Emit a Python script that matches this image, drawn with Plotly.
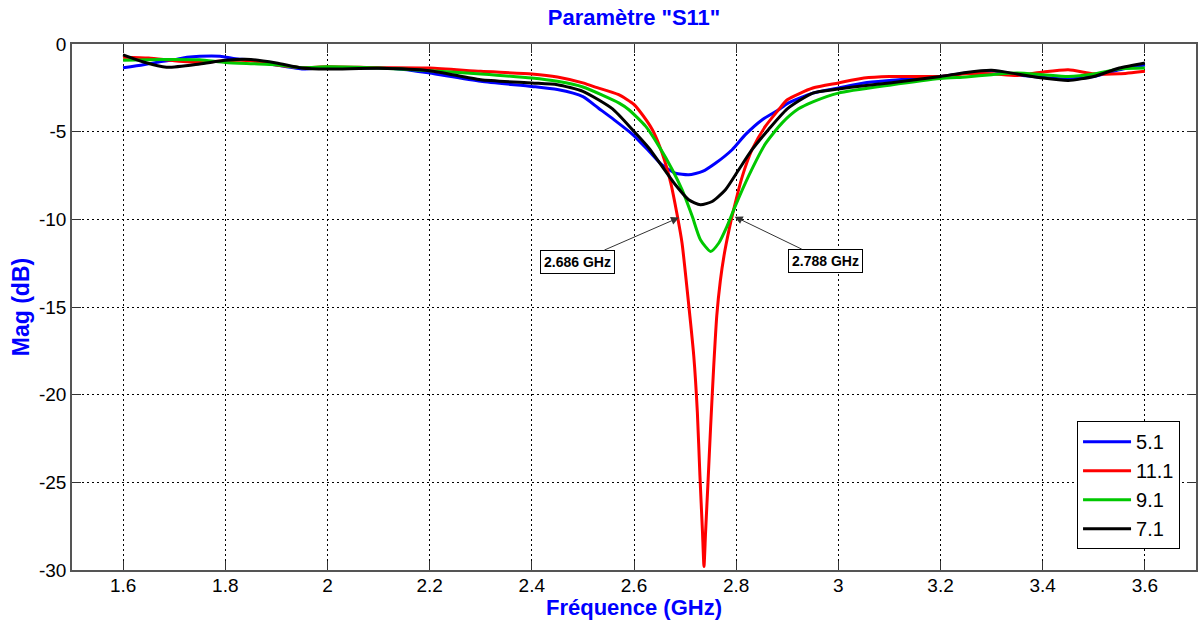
import plotly.graph_objects as go

# ---------------- data ----------------
freq_51 = [1.6, 1.64, 1.67, 1.7, 1.725, 1.75, 1.79, 1.82, 1.85, 1.9, 1.95, 2.0, 2.1, 2.15, 2.2, 2.3, 2.4,
           2.45, 2.5, 2.53, 2.56, 2.597, 2.629, 2.655, 2.681, 2.707, 2.734, 2.76, 2.792, 2.818, 2.851,
           2.883, 2.9, 2.95, 3.0, 3.05, 3.1, 3.2, 3.25, 3.3, 3.35, 3.4, 3.45, 3.5, 3.55, 3.6]
mag_51 = [-1.35, -1.18, -1.03, -0.9, -0.76, -0.7, -0.7, -0.84, -0.92, -1.2, -1.42, -1.35, -1.37, -1.45,
          -1.66, -2.13, -2.42, -2.6, -3.0, -3.65, -4.3, -5.15, -6.1, -6.9, -7.36, -7.46, -7.27, -6.79,
          -6.03, -5.17, -4.32, -3.75, -3.4, -2.8, -2.51, -2.22, -2.08, -1.85, -1.66, -1.52, -1.75, -1.9,
          -2.0, -1.85, -1.47, -1.2]

freq_111 = [1.6, 1.65, 1.7, 1.75, 1.8, 1.85, 1.9, 1.95, 2.0, 2.1, 2.2, 2.3, 2.4, 2.45, 2.5, 2.52, 2.57,
            2.6, 2.609, 2.636, 2.655, 2.672, 2.685, 2.694, 2.704, 2.717, 2.724, 2.729, 2.734, 2.737,
            2.740, 2.745, 2.75, 2.756, 2.762, 2.769, 2.776, 2.786, 2.795, 2.812, 2.831, 2.857, 2.883,
            2.9, 2.95, 3.0, 3.05, 3.1, 3.2, 3.25, 3.3, 3.35, 3.4, 3.45, 3.5, 3.55, 3.6]
mag_111 = [-0.75, -0.8, -0.95, -1.05, -0.95, -0.95, -1.2, -1.35, -1.3, -1.35, -1.37, -1.56, -1.71, -1.88,
           -2.22, -2.42, -2.89, -3.45, -3.75, -4.89, -6.22, -7.93, -9.83, -11.35, -14.0, -17.8, -21.0,
           -24.6, -27.8, -29.8, -27.9, -24.9, -21.8, -18.4, -15.5, -13.5, -12.1, -10.6, -9.45, -7.55,
           -6.03, -4.7, -3.75, -3.18, -2.51, -2.22, -1.94, -1.85, -1.85, -1.7, -1.7, -1.8, -1.6, -1.47,
           -1.7, -1.7, -1.55]

freq_91 = [1.6, 1.65, 1.7, 1.75, 1.8, 1.85, 1.9, 1.95, 2.0, 2.1, 2.2, 2.3, 2.4, 2.45, 2.5, 2.571, 2.59,
           2.623, 2.649, 2.675, 2.694, 2.714, 2.73, 2.75, 2.766, 2.782, 2.798, 2.824, 2.857, 2.89,
           2.922, 2.95, 3.0, 3.1, 3.2, 3.25, 3.3, 3.35, 3.4, 3.45, 3.5, 3.55, 3.6]
mag_91 = [-0.93, -0.9, -0.88, -0.9, -1.05, -1.12, -1.18, -1.35, -1.3, -1.37, -1.52, -1.71, -1.94, -2.13,
          -2.45, -3.37, -3.75, -4.7, -5.84, -7.17, -8.31, -9.83, -11.16, -11.83, -11.35, -10.4, -9.26,
          -7.55, -5.7, -4.5, -3.7, -3.3, -2.8, -2.35, -1.97, -1.88, -1.75, -1.66, -1.75, -1.85, -1.71,
          -1.42, -1.37]

freq_71 = [1.6, 1.64, 1.685, 1.75, 1.8, 1.85, 1.9, 1.95, 2.0, 2.1, 2.2, 2.3, 2.4, 2.45, 2.5, 2.558,
           2.597, 2.629, 2.655, 2.681, 2.707, 2.73, 2.753, 2.779, 2.805, 2.831, 2.863, 2.9, 2.95, 3.0,
           3.05, 3.1, 3.2, 3.25, 3.3, 3.35, 3.4, 3.45, 3.5, 3.55, 3.6]
mag_71 = [-0.62, -1.03, -1.33, -1.14, -0.93, -0.88, -1.08, -1.37, -1.43, -1.38, -1.52, -2.04, -2.22,
          -2.32, -2.7, -3.7, -4.89, -5.93, -6.98, -8.03, -8.88, -9.17, -8.98, -8.31, -7.17, -6.03, -4.89,
          -3.7, -2.8, -2.57, -2.38, -2.22, -1.85, -1.62, -1.5, -1.71, -1.94, -2.08, -1.85, -1.37, -1.08]

series_names = ["5.1", "11.1", "9.1", "7.1"]
series_colors = ["#0000FF", "#FF0000", "#00C800", "#000000"]

marker_freqs = [2.688, 2.797]
marker_mags = [-9.9, -9.85]
marker_labels = ["2.686 GHz", "2.788 GHz"]

x_ticks = [1.6, 1.8, 2.0, 2.2, 2.4, 2.6, 2.8, 3.0, 3.2, 3.4, 3.6]
x_tick_text = ["1.6", "1.8", "2", "2.2", "2.4", "2.6", "2.8", "3", "3.2", "3.4", "3.6"]
y_ticks = [0, -5, -10, -15, -20, -25, -30]
y_tick_text = ["0", "-5", "-10", "-15", "-20", "-25", "-30"]

# ---------------- figure ----------------
FONT = "Liberation Sans, Arial, sans-serif"
fig = go.Figure()
all_x = [freq_51, freq_111, freq_91, freq_71]
all_y = [mag_51, mag_111, mag_91, mag_71]
for xs, ys, name, col in zip(all_x, all_y, series_names, series_colors):
    fig.add_trace(go.Scatter(x=xs, y=ys, mode="lines", name=name,
                             line=dict(color=col, width=3, shape="spline", smoothing=0.6)))

offsets = [(-101, 44), (91, 44)]
for fx, my, lab, (axo, ayo) in zip(marker_freqs, marker_mags, marker_labels, offsets):
    fig.add_annotation(x=fx, y=my, text="<b>" + lab + "</b>", showarrow=True, ax=axo, ay=ayo,
                       arrowhead=2, arrowsize=1.6, arrowwidth=1, arrowcolor="#333333",
                       bgcolor="white", bordercolor="black", borderwidth=1, borderpad=3,
                       font=dict(family=FONT, size=14, color="black"))

# x-axis title placed as a paper annotation just below the tick labels
fig.add_annotation(text="<b>Fréquence (GHz)</b>", xref="paper", yref="paper", x=0.5, y=-0.098,
                   xanchor="center", yanchor="bottom", showarrow=False,
                   font=dict(family=FONT, size=22, color="#0000FF"))

axis_common = dict(showline=True, linecolor="#555555", linewidth=1.5, mirror="ticks",
                   ticks="inside", ticklen=9, tickwidth=1, tickcolor="#333333",
                   showgrid=True, gridcolor="#000000", gridwidth=1, griddash="2px,3px",
                   zeroline=False, tickfont=dict(family=FONT, size=19, color="black"))

fig.update_xaxes(range=[1.5, 3.7], tickvals=x_ticks, ticktext=x_tick_text,
                 ticklabelstandoff=-3, **axis_common)
fig.update_yaxes(range=[-30, 0], tickvals=y_ticks, ticktext=y_tick_text,
                 title=dict(text="<b>Mag (dB)</b>", font=dict(family=FONT, size=23, color="#0000FF"),
                            standoff=3),
                 **axis_common)

fig.update_layout(
    width=1198, height=621,
    margin=dict(l=72, r=0, t=44, b=51),
    paper_bgcolor="white", plot_bgcolor="white",
    title=dict(text='<b>Paramètre "S11"</b>', x=0.5, xref="paper", xanchor="center",
               y=1 - 17 / 621, yref="container", yanchor="middle",
               font=dict(family=FONT, size=22, color="#0000FF")),
    legend=dict(x=0.9858, y=0.283, xanchor="right", yanchor="top",
                bgcolor="white", bordercolor="black", borderwidth=1,
                font=dict(family=FONT, size=20, color="black"),
                tracegroupgap=0, itemwidth=48, entrywidth=60),
    showlegend=True,
)

fig.write_html("out.html")
